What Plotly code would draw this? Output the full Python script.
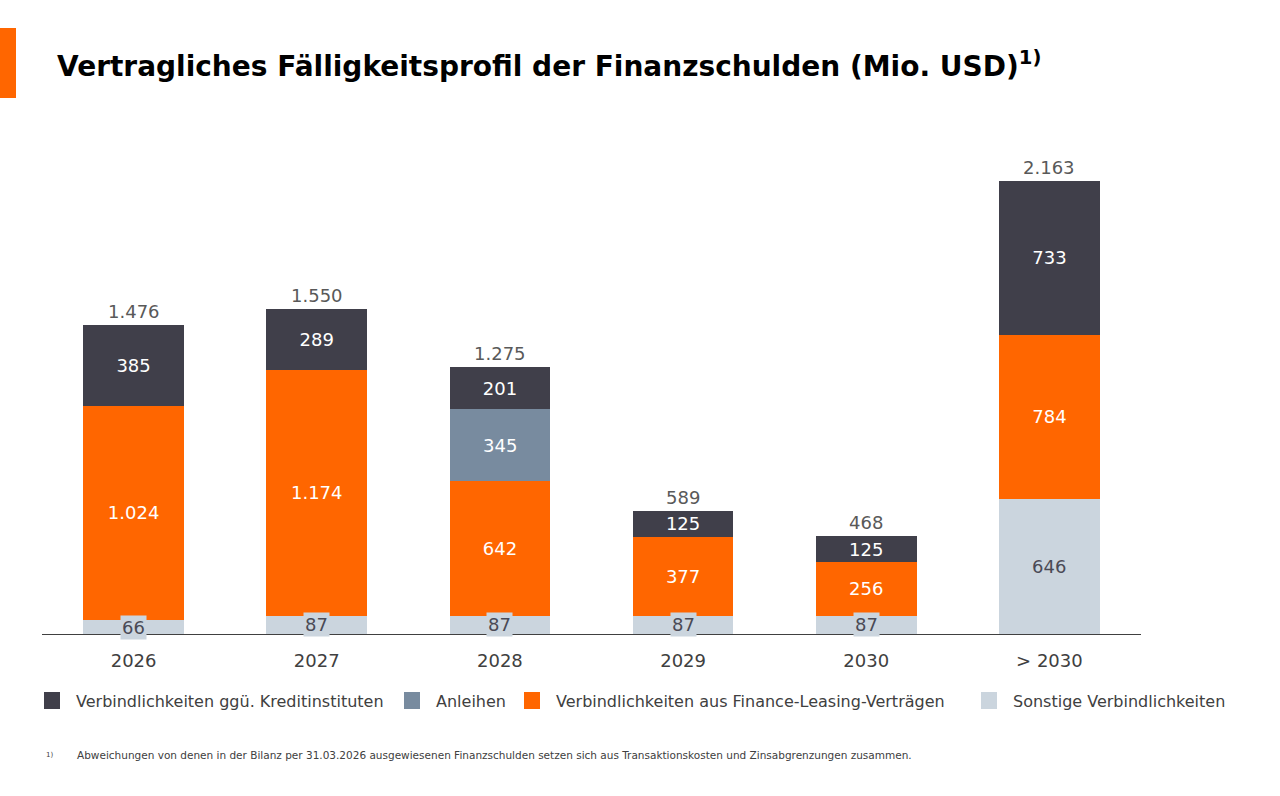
import plotly.graph_objects as go

categories = ["2026", "2027", "2028", "2029", "2030", "> 2030"]
sonstige = [66, 87, 87, 87, 87, 646]
leasing = [1024, 1174, 642, 377, 256, 784]
anleihen = [0, 0, 345, 0, 0, 0]
kredit = [385, 289, 201, 125, 125, 733]
totals = [1476, 1550, 1275, 589, 468, 2163]

def fmt(v):
    return f"{v:,}".replace(",", ".")

C_DARK = "#403F4A"
C_BOND = "#788B9F"
C_ORANGE = "#FF6600"
C_LIGHT = "#CBD5DE"
FONT = "DejaVu Sans, Liberation Sans, Arial, sans-serif"

W, H = 1280, 796
ML, MR, MT, MB = 42, 139, 150, 162
PW, PH = W - ML - MR, H - MT - MB

def px_x(p):
    return (p - ML) / PW

def px_y(p):
    return (H - MB - p) / PH

fig = go.Figure()
fig.add_trace(go.Bar(name="Sonstige Verbindlichkeiten", x=categories, y=sonstige,
                     marker=dict(color=C_LIGHT, line_width=0), hoverinfo="skip"))
fig.add_trace(go.Bar(name="Verbindlichkeiten aus Finance-Leasing-Verträgen", x=categories, y=leasing,
                     marker=dict(color=C_ORANGE, line_width=0),
                     text=[fmt(v) for v in leasing], textposition="inside",
                     insidetextanchor="middle", textfont=dict(color="white", size=18, family=FONT)))
fig.add_trace(go.Bar(name="Anleihen", x=categories, y=anleihen,
                     marker=dict(color=C_BOND, line_width=0), textposition="none"))
fig.add_trace(go.Bar(name="Verbindlichkeiten ggü. Kreditinstituten", x=categories, y=kredit,
                     marker=dict(color=C_DARK, line_width=0),
                     text=[fmt(v) for v in kredit], textposition="inside",
                     insidetextanchor="middle", textfont=dict(color="white", size=18, family=FONT)))

annotations = []
for i, s in enumerate(sonstige):
    annotations.append(dict(x=i, y=s / 2, text=fmt(s), showarrow=False,
                            font=dict(size=18, color="#4A4A55", family=FONT),
                            bgcolor=C_LIGHT, borderpad=1, yanchor="middle"))
for i, (s, l, a) in enumerate(zip(sonstige, leasing, anleihen)):
    if a:
        annotations.append(dict(x=i, y=s + l + a / 2, text=fmt(a), showarrow=False,
                                font=dict(size=18, color="white", family=FONT), yanchor="middle"))
for i, t in enumerate(totals):
    annotations.append(dict(x=i, y=t, text=fmt(t), showarrow=False, yanchor="bottom",
                            yshift=1, font=dict(size=18, color="#595959", family=FONT)))

# title and footnote
annotations.append(dict(xref="paper", yref="paper", x=px_x(55), y=px_y(65), xanchor="left", yanchor="middle",
                        text="<b>Vertragliches Fälligkeitsprofil der Finanzschulden (Mio. USD)</b><sup><b>1)</b></sup>",
                        showarrow=False, font=dict(size=28, color="black", family=FONT)))
annotations.append(dict(xref="paper", yref="paper", x=px_x(44), y=px_y(755), xanchor="left", yanchor="middle",
                        text="1)", showarrow=False, font=dict(size=7, color="#404040", family=FONT)))
annotations.append(dict(xref="paper", yref="paper", x=px_x(75), y=px_y(755), xanchor="left", yanchor="middle",
                        text="Abweichungen von denen in der Bilanz per 31.03.2026 ausgewiesenen Finanzschulden setzen sich aus Transaktionskosten und Zinsabgrenzungen zusammen.",
                        showarrow=False, font=dict(size=10.5, color="#404040", family=FONT)))

shapes = [dict(type="rect", xref="paper", yref="paper", x0=px_x(0), x1=px_x(16), y0=px_y(98), y1=px_y(28),
               fillcolor=C_ORANGE, line_width=0, layer="above")]

# manual legend
legend_items = [
    ("Verbindlichkeiten ggü. Kreditinstituten", C_DARK, 44),
    ("Anleihen", C_BOND, 404),
    ("Verbindlichkeiten aus Finance-Leasing-Verträgen", C_ORANGE, 524),
    ("Sonstige Verbindlichkeiten", C_LIGHT, 981),
]
for name, col, sx in legend_items:
    shapes.append(dict(type="rect", xref="paper", yref="paper", x0=px_x(sx), x1=px_x(sx + 16),
                       y0=px_y(709), y1=px_y(692), fillcolor=col, line_width=0))
    annotations.append(dict(xref="paper", yref="paper", x=px_x(sx + 30), y=px_y(701), xanchor="left",
                            yanchor="middle", text=name, showarrow=False,
                            font=dict(size=16, color="#404040", family=FONT)))

fig.update_layout(
    barmode="stack",
    bargap=0.45,
    width=W, height=H,
    margin=dict(l=ML, r=MR, t=MT, b=MB),
    paper_bgcolor="white", plot_bgcolor="white",
    font=dict(family=FONT, color="#404040"),
    uniformtext=dict(minsize=18, mode="show"),
    showlegend=False,
    annotations=annotations,
    shapes=shapes,
    xaxis=dict(type="category", showline=True, linecolor="#404040", linewidth=1, ticks="", showgrid=False,
               ticklabelstandoff=10, tickfont=dict(size=18, color="#404040", family=FONT)),
    yaxis=dict(visible=False, range=[0, 2311], showgrid=False),
)

fig.write_html("out.html")
